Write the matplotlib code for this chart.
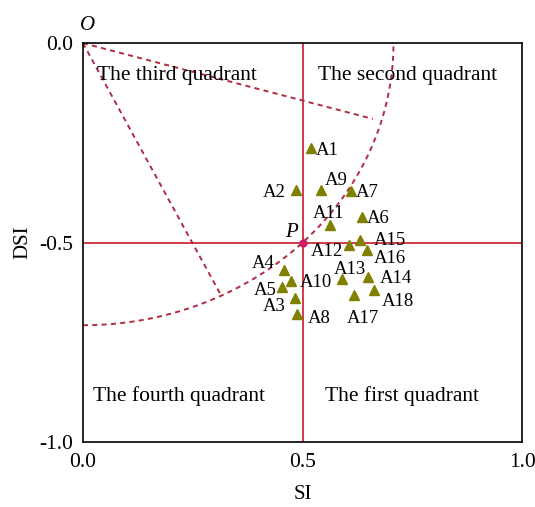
import numpy as np
import matplotlib
matplotlib.use("Agg")
import matplotlib.pyplot as plt

plt.rcParams['font.family'] = ['Liberation Serif', 'DejaVu Serif']
plt.rcParams['axes.unicode_minus'] = False

# sample points (SI, DSI)
names = ['A1', 'A2', 'A3', 'A4', 'A5', 'A6', 'A7', 'A8', 'A9',
         'A10', 'A11', 'A12', 'A13', 'A14', 'A15', 'A16', 'A17', 'A18']
si = [0.519, 0.484, 0.483, 0.458, 0.454, 0.635, 0.610, 0.487, 0.541,
      0.474, 0.563, 0.606, 0.589, 0.650, 0.631, 0.646, 0.618, 0.663]
dsi = [-0.264, -0.368, -0.640, -0.569, -0.612, -0.437, -0.370, -0.680, -0.368,
       -0.596, -0.456, -0.507, -0.591, -0.586, -0.494, -0.519, -0.632, -0.619]
# label offsets in points (dx, dy)
offsets = {'A1': (12, -1.5), 'A2': (-15, -2), 'A3': (-15, -6), 'A4': (-15, 4.5),
           'A5': (-12, -2), 'A6': (12, -1), 'A7': (11.5, -1), 'A8': (16, -3),
           'A9': (11.5, 7), 'A10': (18, -1), 'A11': (-1.5, 8.5), 'A12': (-16, -4.5),
           'A13': (6, 6.5), 'A14': (20, -1.5), 'A15': (21.5, 0), 'A16': (17, -6),
           'A17': (6.5, -16.5), 'A18': (17, -8.5)}

P = (0.5, -0.5)
radius = np.sqrt(0.5)
ray_ends = [(0.66, -0.19), (0.312, -0.627)]

red = '#CC2A3E'
dash_red = '#B02C40'
olive = '#7F7F00'

fig = plt.figure(figsize=(5.35, 5.07), dpi=100)
ax = fig.add_axes([0.155, 0.128, 0.821, 0.787])

ax.axvline(P[0], color=red, lw=1.3, zorder=1)
ax.axhline(P[1], color=red, lw=1.3, zorder=1)

# dashed arc and rays from O
t = np.linspace(-np.pi / 2, 0, 200)
ax.plot(radius * np.cos(t), radius * np.sin(t), color=dash_red, lw=1.4,
        ls=(0, (2.6, 2.2)), zorder=1)
for xe, ye in ray_ends:
    ax.plot([0, xe], [0, ye], color=dash_red, lw=1.4, ls=(0, (2.6, 2.2)), zorder=1)

ax.plot(si, dsi, '^', color=olive, ms=7.5, zorder=3)
for n, x, y in zip(names, si, dsi):
    dx, dy = offsets[n]
    ax.annotate(n, (x, y), xytext=(dx, dy), textcoords='offset points',
                ha='center', va='center', fontsize=13.5)

ax.plot(*P, 'o', color='#D01E64', ms=5, zorder=4)
ax.annotate('P', P, xytext=(-8, 7.5), textcoords='offset points',
            ha='center', va='center', fontsize=15, style='italic')
ax.annotate('O', (0, 0), xytext=(3, 13), textcoords='offset points',
            ha='center', va='center', fontsize=15, style='italic',
            annotation_clip=False)

ax.text(0.032, -0.08, 'The third quadrant', fontsize=15.5, va='center')
ax.text(0.536, -0.08, 'The second quadrant', fontsize=15.5, va='center')
ax.text(0.022, -0.885, 'The fourth quadrant', fontsize=15.5, va='center')
ax.text(0.55, -0.885, 'The first quadrant', fontsize=15.5, va='center')

ax.set_xlim(0, 1)
ax.set_ylim(-1, 0)
ax.set_xticks([0, 0.5, 1.0])
ax.set_yticks([0, -0.5, -1.0])
ax.set_xticklabels(['0.0', '0.5', '1.0'])
ax.set_yticklabels(['0.0', '-0.5', '-1.0'])
ax.tick_params(length=0, labelsize=15.5)
ax.tick_params(axis='x', pad=8)
ax.tick_params(axis='y', pad=7)
ax.set_xlabel('SI', fontsize=15, labelpad=9)
ax.set_ylabel('DSI', fontsize=15, labelpad=5)
for s in ax.spines.values():
    s.set_linewidth(1.2)

fig.savefig('out.png', dpi=100)
